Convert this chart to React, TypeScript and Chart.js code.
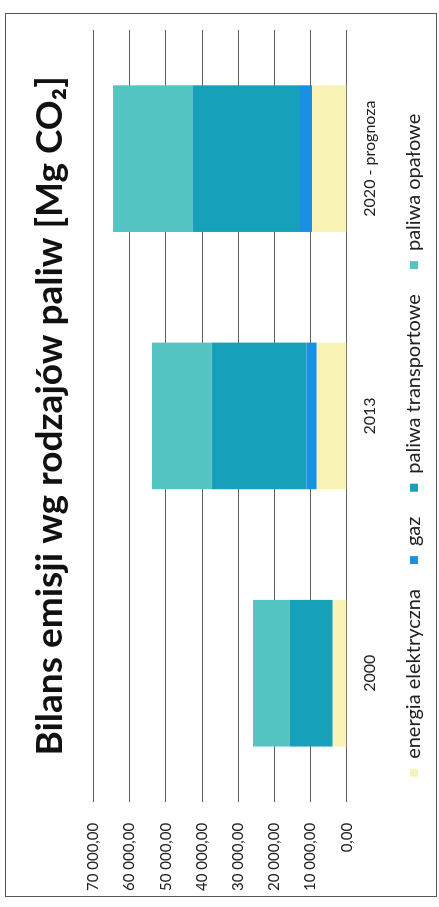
import React, { useEffect, useRef } from 'react';
import { Chart, registerables } from 'chart.js';

Chart.register(...registerables);

const categories = ['2000', '2013', '2020 - prognoza'];
const energiaElektryczna = [3900, 8300, 9600];
const gaz = [0, 2800, 3300];
const paliwaTransportowe = [11800, 26200, 29700];
const paliwaOpalowe = [10200, 16500, 22000];
const seriesNames = ['energia elektryczna', 'gaz', 'paliwa transportowe', 'paliwa opałowe'];
const seriesColors = ['#f9f4b6', '#1b8fe4', '#17a0b9', '#55c5c3'];
const titleText = 'Bilans emisji wg rodzajów paliw [Mg CO₂]';
const yMin = 0;
const yMax = 70000;
const yStep = 10000;

function formatPl(v: number): string {
  const s = Math.round(v).toString().replace(/\B(?=(\d{3})+(?!\d))/g, ' ');
  return s + ',00';
}

const W = 907;
const H = 439;
const X_TICK_PAD = 13;
const Y_TICK_PAD = 21;
const LEGEND_PAD = 25;

export default function App() {
  const ref = useRef<HTMLCanvasElement | null>(null);

  useEffect(() => {
    if (!ref.current) return;
    const seriesData = [energiaElektryczna, gaz, paliwaTransportowe, paliwaOpalowe];
    const font = 'Lato, "Open Sans", sans-serif';
    const chart = new Chart(ref.current, {
      type: 'bar',
      data: {
        labels: categories,
        datasets: seriesData.map((d, i) => ({
          label: seriesNames[i],
          data: d,
          backgroundColor: seriesColors[i],
          borderWidth: 0,
          categoryPercentage: 1,
          barPercentage: 0.57,
        })),
      },
      options: {
        responsive: false,
        animation: false,
        layout: { padding: { left: 16, right: 30, top: 0, bottom: 5 } },
        plugins: {
          tooltip: { enabled: false },
          title: {
            display: true,
            fullSize: false,
            text: titleText,
            align: 'center',
            color: '#111',
            font: { family: font, size: 37, weight: 'bold' },
            padding: { top: 28, bottom: 21 },
          },
          legend: {
            position: 'bottom',
            fullSize: false,
            align: 'start',
            labels: {
              boxWidth: 8,
              boxHeight: 8,
              padding: LEGEND_PAD,
              color: '#222',
              font: { family: font, size: 20 },
            },
          },
        },
        scales: {
          x: {
            stacked: true,
            grid: { display: false, drawTicks: false },
            border: { display: false },
            ticks: { color: '#222', font: { family: font, size: 16 }, padding: X_TICK_PAD },
            afterFit: (scale: any) => {
              scale.height -= X_TICK_PAD;
            },
          },
          y: {
            stacked: true,
            min: yMin,
            max: yMax,
            ticks: {
              stepSize: yStep,
              color: '#222',
              font: { family: font, size: 15 },
              padding: Y_TICK_PAD,
              callback: (v: any) => formatPl(Number(v)),
            },
            grid: { color: '#606060', lineWidth: 1, drawTicks: false },
            border: { display: false },
            afterFit: (scale: any) => {
              scale.width -= Y_TICK_PAD;
            },
          },
        },
      },
    });
    return () => chart.destroy();
  }, []);

  return (
    <div
      style={{
        position: 'fixed',
        left: 0,
        top: 0,
        width: W,
        height: H,
        background: '#fff',
        transformOrigin: '0 0',
        transform: `translate(0px, ${W}px) rotate(-90deg)`,
      }}
    >
      <canvas ref={ref} width={W} height={H} style={{ display: 'block', position: 'absolute', left: 0, top: 0 }} />
      <div
        style={{
          position: 'absolute',
          left: 10,
          top: 5,
          width: 884,
          height: 432,
          border: '1px solid #555',
          boxSizing: 'border-box',
          pointerEvents: 'none',
        }}
      />
    </div>
  );
}
